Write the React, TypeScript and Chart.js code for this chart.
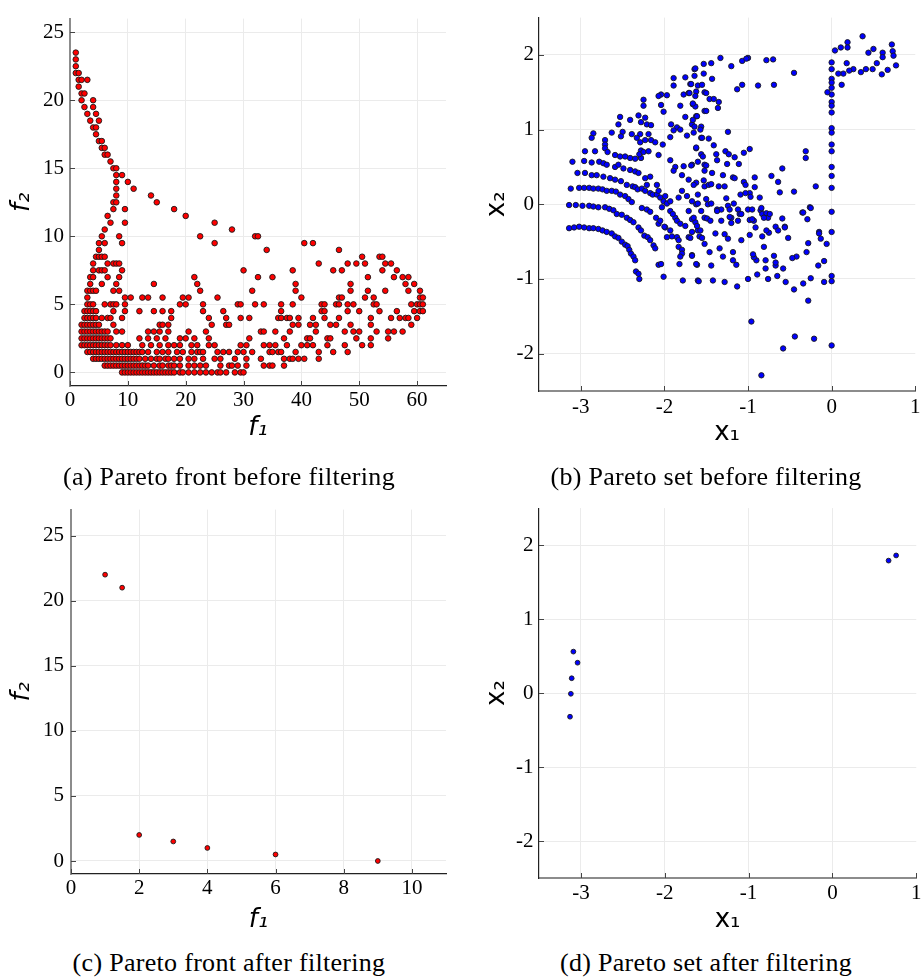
import React, { useEffect, useRef } from "react";
import { Chart, registerables } from "chart.js";

Chart.register(...registerables);

// ---------- DATA ----------
// (a) Pareto front before filtering: rows of [f2, f1 values]
const frontBeforeRows: [number, number[]][] = [
  [0, [9, 9.5, 10, 10.5, 11, 11.5, 12, 12.5, 13, 13.5, 14, 14.5, 15, 15.5, 16, 16.5, 17, 17.5, 18, 19, 19.5, 20.5, 21.5, 22.5, 23.5, 24.5, 25.5, 26, 27, 28.5, 29.5, 30]],
  [0.5, [6, 6.5, 7, 7.5, 8, 8.5, 9, 9.5, 10, 10.5, 11, 11.5, 12, 12.5, 13, 13.5, 14.5, 15.5, 16, 17, 17.5, 18, 19, 20.5, 21.5, 22.5, 23.5, 26, 27.5, 28, 29, 30.5, 33.5, 34.5, 35, 37]],
  [1, [4, 4.5, 5, 5.5, 6, 6.5, 7, 7.5, 8, 8.5, 9, 9.5, 10, 10.5, 11, 11.5, 12, 13, 14, 15, 15.5, 16.5, 17, 18, 19, 20.5, 21.5, 23, 25, 26, 28.5, 30.5, 33, 37, 38, 38.5, 39.5, 40.5, 43]],
  [1.5, [3, 3.5, 4, 4.5, 5, 5.5, 6, 6.5, 7, 7.5, 8, 8.5, 9, 9.5, 10, 10.5, 11, 11.5, 12, 12.5, 13.5, 15, 16, 17, 18.5, 19.5, 21, 22, 22.5, 23, 25.5, 26.5, 27.5, 29, 30, 31.5, 34.5, 35, 36, 36.5, 39, 43, 45.5, 48]],
  [2, [2, 2.5, 3, 3.5, 4, 4.5, 5, 5.5, 6, 6.5, 7, 8, 9, 10, 12.5, 14, 15.5, 17, 18, 19, 21, 22, 24, 25, 29.5, 30.5, 33.5, 34.5, 35.5, 37.5, 40, 41, 42, 44.5, 47.5, 50.5, 52]],
  [2.5, [2, 2.5, 3, 3.5, 4, 4.5, 5, 5.5, 6, 6.5, 7, 12, 13.5, 15, 16.5, 19, 20, 21.5, 24, 31, 37, 41, 41.5, 44.5, 45, 49.5, 52, 55]],
  [3, [2, 2.5, 3, 3.5, 4, 4.5, 5, 5.5, 6, 6.5, 8, 9, 13.5, 14.5, 15.5, 17, 20.5, 23.5, 33, 33.5, 35.5, 38, 42.5, 47.5, 49, 50, 53, 55, 56, 57.5]],
  [3.5, [2, 2.5, 3, 3.5, 4, 4.5, 5, 7.5, 15.5, 16, 17, 24.5, 27, 27.5, 38.5, 39.5, 41.5, 42.5, 45, 46, 48.5, 52, 59]],
  [4, [2.5, 3, 3.5, 4, 4.5, 5.5, 6.5, 7, 9, 17.5, 24, 27, 29.5, 31, 36, 36.5, 37.5, 38, 39.5, 42, 44, 46.5, 52, 55.5, 57, 58, 58.5, 60]],
  [4.5, [2.5, 3, 3.5, 4, 4.5, 7.5, 9.5, 12, 14.5, 16, 17.5, 23, 26.5, 36.5, 43.5, 44, 48, 50, 53.5, 56.5, 59.5, 60.5, 61]],
  [5, [3, 3.5, 4, 6, 7, 7.5, 8, 9.5, 19, 20, 23, 29, 29.5, 32, 33.5, 36.5, 38.5, 43.5, 44, 46, 46.5, 48, 49, 52.5, 53, 59, 60, 60.5, 61]],
  [5.5, [3, 9.5, 10.5, 12.5, 13.5, 16, 19.5, 20.5, 25.5, 40, 46.5, 47, 51, 52.5, 60.5, 61]],
  [6, [3, 3.5, 4, 4.5, 7.5, 8.5, 22.5, 31.5, 39, 48.5, 51.5, 54.5, 58.5, 60.5]],
  [6.5, [3.5, 5.5, 8, 14.5, 22, 39, 48.5, 58, 59.5]],
  [7, [3.5, 4, 6.5, 8.5, 21.5, 32.5, 35, 51.5, 56, 57.5, 58.5]],
  [7.5, [4, 5, 5.5, 6, 9, 30, 38.5, 45.5, 47, 54, 56.5]],
  [8, [4, 6.5, 7.5, 8, 8.5, 43, 48, 49.5, 51, 54.5, 55.5]],
  [8.5, [4.5, 5, 5.5, 6, 50.5, 53.5, 54]],
  [9, [5, 34, 46.5]],
  [9.5, [5, 6, 9, 25, 40.5, 42]],
  [10, [5.5, 8.5, 22.5, 32, 32.5]],
  [10.5, [6, 28]],
  [11, [7, 9.5, 25]],
  [11.5, [6.5, 20]],
  [12, [7.5, 9.5, 18]],
  [12.5, [7.5, 8, 15]],
  [13, [8, 14]],
  [13.5, [8, 11]],
  [14, [8, 10]],
  [14.5, [8, 9]],
  [15, [7.5, 8]],
  [15.5, [7]],
  [16, [6, 6.5]],
  [16.5, [5.5, 6]],
  [17, [5, 5.5]],
  [17.5, [4.5]],
  [18, [4, 4.5]],
  [18.5, [3.5, 5]],
  [19, [3, 4.5]],
  [19.5, [2.5, 4]],
  [20, [2, 4]],
  [20.5, [2, 2.5]],
  [21, [1.5]],
  [21.5, [1.5, 2, 3]],
  [22, [1, 1.5]],
  [22.5, [1]],
  [23, [1]],
  [23.5, [1]],
];

// (b) Pareto set before filtering: [x1, x2]
const setBefore: [number, number][] = [
  // lower-left arcs
  [-3.14, -0.32], [-3.08, -0.31], [-3.02, -0.3], [-2.96, -0.31], [-2.9, -0.32], [-2.85, -0.32], [-2.79, -0.33], [-2.74, -0.35], [-2.69, -0.37], [-2.63, -0.39], [-2.59, -0.43], [-2.55, -0.45], [-2.51, -0.5], [-2.47, -0.54], [-2.44, -0.56], [-2.42, -0.61], [-2.4, -0.66], [-2.37, -0.7], [-2.35, -0.75], [-2.34, -0.9], [-2.31, -0.93], [-2.3, -1.0],
  [-3.14, -0.01], [-3.06, -0.01], [-2.98, -0.02], [-2.9, -0.02], [-2.85, -0.03], [-2.79, -0.04], [-2.71, -0.04], [-2.66, -0.06], [-2.61, -0.08], [-2.57, -0.13], [-2.51, -0.14], [-2.45, -0.18], [-2.41, -0.21], [-2.37, -0.24], [-2.31, -0.31], [-2.28, -0.35], [-2.24, -0.42], [-2.2, -0.44], [-2.17, -0.48], [-2.13, -0.55], [-2.11, -0.59], [-2.07, -0.81], [-2.04, -0.8], [-2.01, -0.97],
  [-3.12, 0.21], [-3.02, 0.22], [-2.96, 0.22], [-2.9, 0.22], [-2.85, 0.21], [-2.79, 0.21], [-2.74, 0.2], [-2.69, 0.18], [-2.63, 0.18], [-2.58, 0.17], [-2.53, 0.13], [-2.47, 0.11], [-2.43, 0.07], [-2.39, 0.03],
  [-3.04, 0.42], [-2.95, 0.42], [-2.87, 0.39], [-2.81, 0.39], [-2.73, 0.37], [-2.65, 0.35], [-2.59, 0.33], [-2.52, 0.31], [-2.45, 0.26], [-2.38, 0.24], [-2.35, 0.23], [-2.32, 0.2], [-2.27, 0.21], [-2.23, 0.18], [-2.17, 0.15], [-2.14, 0.13], [-2.09, 0.13], [-2.05, 0.09], [-2.01, 0.04], [-1.97, 0.01],
  [-3.1, 0.57], [-2.96, 0.58], [-2.87, 0.56], [-2.78, 0.57], [-2.73, 0.55], [-2.69, 0.53], [-2.59, 0.5], [-2.55, 0.53], [-2.49, 0.48], [-2.41, 0.46], [-2.35, 0.44], [-2.31, 0.42], [-2.23, 0.35], [-2.17, 0.37], [-2.21, 0.26], [-2.09, 0.26],
  [-2.07, 0.18], [-1.99, 0.11], [-1.93, 0.04], [-1.83, 0.09], [-1.79, 0.18], [-1.73, 0.11], [-1.67, 0.04], [-1.62, 0.0], [-1.6, 0.13], [-1.56, -0.09], [-1.48, 0.0],
  [-2.07, -0.26], [-1.99, -0.31], [-1.93, -0.35], [-1.91, -0.43], [-1.85, -0.44], [-1.83, -0.48], [-1.83, -0.57], [-1.79, -0.61], [-1.79, -0.66], [-1.81, -0.7], [-1.82, -0.8], [-1.78, -1.02], [-1.6, -1.02], [-1.67, -0.68], [-1.61, -0.81], [-1.71, -0.44], [-1.67, -0.37], [-1.6, -0.35], [-1.58, -0.43], [-1.52, -0.53], [-1.52, -0.18], [-1.71, -0.09], [-1.67, -0.2], [-1.63, -0.24], [-1.87, -0.18], [-1.85, -0.22], [-1.81, -0.26], [-1.75, -0.29], [-2.03, -0.04], [-1.93, -0.09], [-1.9, -0.13], [-2.27, -0.05], [-2.21, -0.07], [-2.17, -0.1], [-2.1, -0.18], [-2.05, -0.22], [-2.0, -0.3], [-1.97, -0.44],
  // upper-left cloud
  [-1.53, 1.88], [-1.64, 1.81], [-1.64, 1.72], [-1.75, 1.7], [-1.89, 1.69], [-1.89, 1.59], [-1.69, 1.61], [-1.6, 1.59], [-1.62, 1.51], [-1.52, 1.5], [-1.77, 1.47], [-1.71, 1.49], [-2.04, 1.47], [-2.07, 1.45], [-1.97, 1.46], [-2.04, 1.33], [-1.81, 1.32], [-1.66, 1.34], [-1.63, 1.31], [-2.25, 1.4], [-2.25, 1.32], [-2.01, 1.24], [-1.52, 1.25], [-1.62, 1.18], [-1.75, 1.17], [-2.31, 1.19], [-2.23, 1.16], [-2.28, 1.1], [-2.21, 1.07], [-2.16, 1.06], [-2.53, 1.17], [-2.41, 1.13], [-2.55, 1.07], [-1.92, 1.07], [-1.85, 1.03], [-1.81, 1.0], [-1.89, 0.99], [-1.73, 0.92], [-1.65, 0.96], [-1.56, 0.89], [-1.56, 1.04], [-1.67, 1.07], [-2.63, 0.96], [-2.5, 0.97], [-2.39, 0.94], [-2.85, 0.95], [-2.87, 0.89], [-2.71, 0.86], [-2.52, 0.91], [-2.29, 0.94], [-2.19, 0.94], [-2.16, 0.86], [-2.11, 0.83], [-2.33, 0.89], [-2.29, 0.83], [-2.23, 0.86], [-2.02, 0.8], [-1.93, 0.9], [-1.62, 0.75], [-2.95, 0.71], [-2.83, 0.71], [-2.71, 0.8], [-2.71, 0.75], [-2.68, 0.7], [-2.59, 0.66], [-2.53, 0.64], [-2.47, 0.64], [-2.41, 0.62], [-2.35, 0.61], [-2.28, 0.62], [-2.28, 0.72], [-2.3, 0.67], [-2.25, 0.7], [-2.19, 0.71], [-2.07, 0.66], [-1.93, 0.59], [-1.87, 0.5], [-1.77, 0.51], [-1.67, 0.53], [-1.6, 0.57], [-1.52, 0.53], [-1.79, 0.39], [-1.89, 0.45], [-1.71, 0.33], [-1.62, 0.29], [-1.52, 0.24],
  // top-right cluster
  [0.37, 2.25], [0.19, 2.17], [0.19, 2.1], [0.11, 2.1], [0.04, 2.06], [0.5, 2.08], [0.44, 2.03], [0.61, 2.03], [0.61, 1.97], [0.72, 2.14], [0.73, 2.05], [0.74, 1.99], [0.77, 1.86], [0.67, 1.8], [0.6, 1.74], [0.54, 1.89], [0.49, 1.81], [0.41, 1.81], [0.35, 1.77], [0.26, 1.81], [0.21, 1.79], [0.14, 1.75], [0.08, 1.75], [0.18, 1.89], [0.12, 1.6],
  // column at x1 = 0
  [0, 1.9], [0, 1.81], [0, 1.68], [0, 1.63], [0, 1.56], [0, 1.47], [0, 1.37], [0, 1.32], [0, 1.23], [0, 1.02], [0, 0.96], [0, 0.8], [0, 0.71], [0, 0.5], [0, 0.38], [0, 0.22], [0, -0.1], [0, -0.37], [-0.05, 1.5],
  // middle cloud
  [-0.45, 1.76], [-0.78, 1.93], [-0.7, 1.94], [-1.07, 1.92], [-1.0, 1.96], [-1.02, 1.95], [-1.2, 1.85], [-1.33, 1.96], [-1.44, 1.89], [-1.63, 1.82], [-1.53, 1.75], [-1.43, 1.68], [-1.68, 1.61], [-1.55, 1.6], [-1.13, 1.54], [-1.07, 1.6], [-0.88, 1.59], [-0.69, 1.6], [-1.5, 1.49], [-1.63, 1.45], [-1.7, 1.49], [-1.46, 1.41], [-1.41, 1.41], [-1.35, 1.37], [-1.36, 1.29], [-1.66, 1.35], [-1.5, 1.25], [-1.61, 1.18], [-1.66, 1.13], [-1.64, 1.04], [-1.57, 1.0], [-1.24, 0.97], [-1.55, 0.89], [-1.47, 0.88], [-1.62, 0.76], [-1.41, 0.79], [-1.56, 0.67], [-1.54, 0.64], [-1.38, 0.67], [-1.27, 0.71], [-1.23, 0.67], [-1.05, 0.69], [-0.98, 0.74], [-1.37, 0.59], [-1.25, 0.54], [-1.16, 0.63], [-1.11, 0.54], [-1.68, 0.52], [-1.5, 0.52], [-1.52, 0.45], [-1.43, 0.42], [-1.3, 0.39], [-1.18, 0.36], [-1.16, 0.35], [-1.05, 0.3], [-1.03, 0.26], [-0.92, 0.23], [-0.92, 0.36], [-0.72, 0.38], [-0.59, 0.48], [-0.64, 0.3], [-0.62, 0.16], [-0.45, 0.17], [-0.19, 0.24], [-0.31, 0.71], [-0.31, 0.62], [-0.98, 0.15], [-1.09, 0.13], [-1.03, 0.15], [-0.97, 0.1], [-0.86, 0.09], [-1.35, 0.24], [-1.28, 0.24], [-1.47, 0.26], [-1.44, 0.27], [-1.53, 0.32], [-1.65, 0.26], [-1.6, 0.01], [-1.5, 0.07], [-1.44, 0.01], [-1.37, -0.07], [-1.32, -0.07], [-1.26, 0.08], [-1.24, -0.02], [-1.17, 0.01], [-1.12, -0.07], [-1.1, -0.13], [-1.0, -0.07], [-0.95, -0.07], [-0.85, -0.08], [-0.83, -0.13], [-0.78, -0.12], [-0.76, -0.18], [-0.93, -0.22], [-1.2, -0.18], [-0.35, -0.11], [-0.29, -0.2], [-0.26, -0.04], [-0.59, -0.19], [-0.56, -0.3], [-0.15, -0.37],
  // lower-middle cloud
  [-0.25, -0.05], [-0.34, -0.11], [-0.15, -0.39], [-0.13, -0.46], [-0.06, -0.53], [-0.28, -0.52], [-0.3, -0.64], [-0.42, -0.7], [-0.47, -0.72], [-0.09, -0.76], [-0.16, -0.82], [-0.25, -0.99], [-0.34, -1.06], [-0.09, -1.04], [0, -0.96], [0, -1.03], [-0.45, -1.14], [-0.55, -1.04], [-0.28, -1.29], [-0.58, -0.86], [-0.65, -0.96], [-0.67, -0.82], [-0.67, -0.78], [-0.69, -0.69], [-0.76, -1.0], [-0.79, -0.86], [-0.79, -0.75], [-0.81, -0.57], [-0.89, -0.94], [-0.9, -0.75], [-0.93, -0.71], [-0.94, -0.67], [-1.0, -1.0], [-1.13, -1.1], [-1.28, -1.04], [-1.42, -1.02], [-1.59, -1.03], [-0.98, -0.41], [-0.83, -0.43], [-0.98, -0.21], [-0.95, -0.2], [-0.91, -0.31], [-0.75, -0.38], [-0.78, -0.35], [-0.67, -0.3], [-0.64, -0.35], [-0.56, -0.31], [-0.52, -0.45], [-0.84, -0.05], [-0.81, -0.18], [-0.74, -0.13], [-1.08, -0.13], [-1.12, -0.22], [-1.08, -0.48], [-1.18, -0.64], [-1.14, -0.81], [-1.18, -0.75], [-1.3, -0.7], [-1.34, -0.59], [-1.46, -0.64], [-1.44, -0.82], [-1.62, -0.8], [-1.67, -0.69], [-1.39, -0.39], [-1.28, -0.4], [-1.24, -0.46], [-1.57, -0.35], [-1.55, -0.45], [-1.69, -0.45], [-1.32, -0.22], [-1.22, -0.17], [-1.2, -0.25], [-1.37, -0.09], [-1.22, -0.07], [-1.49, -0.19], [-1.45, -0.22], [-1.65, -0.18], [-1.61, -0.29],
  // outliers
  [-0.96, -1.57], [-0.58, -1.93], [-0.44, -1.77], [-0.21, -1.8], [0, -1.89], [-0.84, -2.29],
];

// (c) Pareto front after filtering: [f1, f2]
const frontAfter: [number, number][] = [[1, 22], [1.5, 21], [2, 2], [3, 1.5], [4, 1], [6, 0.5], [9, 0]];

// (d) Pareto set after filtering: [x1, x2]
const setAfter: [number, number][] = [[-3.09, 0.56], [-3.04, 0.41], [-3.11, 0.2], [-3.12, -0.01], [-3.13, -0.32], [0.67, 1.79], [0.76, 1.86]];

// tick values
const frontBeforeXTicks = [0, 10, 20, 30, 40, 50, 60];
const frontAfterXTicks = [0, 2, 4, 6, 8, 10];
const frontYTicks = [0, 5, 10, 15, 20, 25];
const setXTicks = [-3, -2, -1, 0, 1];
const setYTicks = [-2, -1, 0, 1, 2];

const captions = [
  "(a) Pareto front before filtering",
  "(b) Pareto set before filtering",
  "(c) Pareto front after filtering",
  "(d) Pareto set after filtering",
];

const frontBefore: [number, number][] = frontBeforeRows.flatMap(([f2, xs]) => xs.map((f1) => [f1, f2] as [number, number]));

// ---------- PANELS ----------
type Panel = {
  left: number; top: number; width: number; height: number;
  area: { left: number; top: number; right: number; bottom: number };
  xMin: number; xMax: number; yMin: number; yMax: number;
  xTicks: number[]; yTicks: number[];
  xTitle: string; yTitle: string; italic: boolean;
  points: [number, number][]; color: string; radius: number;
  xTickPad: number; yTickPad: number; xTitleY: number; yTitleX: number;
  leftBorder: { color: string; width: number };
  bottomBorder: { color: string; width: number };
};

const GRAY_AXIS = { color: "#8c8c8c", width: 2 };
const DARK_AXIS = { color: "#222222", width: 1.2 };

const panels: Panel[] = [
  {
    left: 0, top: 0, width: 462, height: 450,
    area: { left: 70, top: 9, right: 446, bottom: 386 },
    xMin: 0, xMax: 65, yMin: -1, yMax: 26,
    xTicks: frontBeforeXTicks, yTicks: frontYTicks,
    xTitle: "f\u2081", yTitle: "f\u2082", italic: true,
    points: frontBefore, color: "#ff0000", radius: 2.8,
    xTickPad: 1.5, yTickPad: 6, xTitleY: 428, yTitleX: 22,
    leftBorder: GRAY_AXIS, bottomBorder: DARK_AXIS,
  },
  {
    left: 462, top: 0, width: 462, height: 450,
    area: { left: 77, top: 9, right: 456, bottom: 391 },
    xMin: -3.5, xMax: 1, yMin: -2.5, yMax: 2.5,
    xTicks: setXTicks, yTicks: setYTicks,
    xTitle: "x\u2081", yTitle: "x\u2082", italic: false,
    points: setBefore, color: "#0000ff", radius: 2.7,
    xTickPad: 3.5, yTickPad: 5, xTitleY: 433, yTitleX: 35,
    leftBorder: DARK_AXIS, bottomBorder: GRAY_AXIS,
  },
  {
    left: 0, top: 490, width: 462, height: 450,
    area: { left: 71, top: 8, right: 446, bottom: 384 },
    xMin: 0, xMax: 11, yMin: -1, yMax: 27,
    xTicks: frontAfterXTicks, yTicks: frontYTicks,
    xTitle: "f\u2081", yTitle: "f\u2082", italic: true,
    points: frontAfter, color: "#ff0000", radius: 2.4,
    xTickPad: 1.5, yTickPad: 7, xTitleY: 430, yTitleX: 22,
    leftBorder: GRAY_AXIS, bottomBorder: DARK_AXIS,
  },
  {
    left: 462, top: 490, width: 462, height: 450,
    area: { left: 77, top: 7, right: 456, bottom: 388 },
    xMin: -3.5, xMax: 1, yMin: -2.5, yMax: 2.5,
    xTicks: setXTicks, yTicks: setYTicks,
    xTitle: "x\u2081", yTitle: "x\u2082", italic: false,
    points: setAfter, color: "#0000ff", radius: 2.4,
    xTickPad: 2.5, yTickPad: 5.5, xTitleY: 430, yTitleX: 35,
    leftBorder: DARK_AXIS, bottomBorder: GRAY_AXIS,
  },
];

const captionPos = [
  { cx: 229, cy: 477 },
  { cx: 706, cy: 477 },
  { cx: 229, cy: 963 },
  { cx: 706, cy: 963 },
];

const innerTicks = {
  id: "innerTicks",
  beforeDatasetsDraw(chart: any) {
    const { ctx, chartArea, scales } = chart;
    ctx.save();
    ctx.strokeStyle = "#444";
    ctx.lineWidth = 1;
    scales.x.ticks.forEach((t: any) => {
      const px = Math.round(scales.x.getPixelForValue(t.value)) + 0.5;
      ctx.beginPath();
      ctx.moveTo(px, chartArea.bottom);
      ctx.lineTo(px, chartArea.bottom - 5);
      ctx.stroke();
    });
    scales.y.ticks.forEach((t: any) => {
      const py = Math.round(scales.y.getPixelForValue(t.value)) + 0.5;
      ctx.beginPath();
      ctx.moveTo(chartArea.left, py);
      ctx.lineTo(chartArea.left + 5, py);
      ctx.stroke();
    });
    ctx.restore();
  },
};

function PanelChart({ p }: { p: Panel }) {
  const ref = useRef<HTMLCanvasElement>(null);
  useEffect(() => {
    const canvas = ref.current;
    if (!canvas) return;
    const TITLE_SIZE = 26;
    const half = (TITLE_SIZE * 1.2) / 2;
    const titleFont = { family: "'DejaVu Sans', sans-serif", size: TITLE_SIZE, style: p.italic ? "italic" : "normal", lineHeight: 1.2 } as any;
    const tickFont = { family: "'Liberation Serif', 'Times New Roman', serif", size: 21, lineHeight: 1.2 } as any;
    const gridColor = (ctx: any, max: number) =>
      ctx.tick && Math.abs(ctx.tick.value - max) < 1e-9 ? "rgba(0,0,0,0)" : "#ebebeb";
    const chart = new Chart(canvas, {
      type: "scatter",
      data: {
        datasets: [
          {
            data: p.points.map(([x, y]) => ({ x, y })),
            backgroundColor: p.color,
            borderColor: "#1a1a1a",
            borderWidth: 0.9,
            pointRadius: p.radius,
            pointHoverRadius: p.radius,
          },
        ],
      },
      options: {
        animation: false,
        responsive: false,
        devicePixelRatio: 1,
        events: [],
        layout: { padding: { left: 0, top: p.area.top, right: p.width - p.area.right, bottom: 0 } },
        plugins: { legend: { display: false }, tooltip: { enabled: false }, title: { display: false } },
        scales: {
          x: {
            type: "linear",
            position: "bottom",
            min: p.xMin,
            max: p.xMax,
            afterBuildTicks: (s: any) => { s.ticks = p.xTicks.map((v) => ({ value: v })); },
            afterFit: (s: any) => { s.height = p.height - p.area.bottom; },
            ticks: { font: tickFont, color: "#000", padding: p.xTickPad, maxRotation: 0, autoSkip: false, callback: (v: any) => String(v) },
            grid: { color: (c: any) => gridColor(c, p.xMax), lineWidth: 1, drawTicks: false },
            border: { display: true, color: p.bottomBorder.color, width: p.bottomBorder.width },
            title: { display: true, text: p.xTitle, font: titleFont, color: "#000", padding: { top: 0, bottom: p.height - p.xTitleY - half } },
          },
          y: {
            type: "linear",
            position: "left",
            min: p.yMin,
            max: p.yMax,
            afterBuildTicks: (s: any) => { s.ticks = p.yTicks.map((v) => ({ value: v })); },
            afterFit: (s: any) => { s.width = p.area.left; },
            ticks: { font: tickFont, color: "#000", padding: p.yTickPad, autoSkip: false, callback: (v: any) => String(v) },
            grid: { color: (c: any) => gridColor(c, p.yMax), lineWidth: 1, drawTicks: false },
            border: { display: true, color: p.leftBorder.color, width: p.leftBorder.width },
            title: { display: true, text: p.yTitle, font: titleFont, color: "#000", padding: { top: Math.max(0, p.yTitleX - half), bottom: 0 } },
          },
        },
      } as any,
      plugins: [innerTicks],
    });
    return () => chart.destroy();
  }, [p]);
  return (
    <canvas
      ref={ref}
      width={p.width}
      height={p.height}
      style={{ position: "absolute", left: p.left, top: p.top, width: p.width, height: p.height }}
    />
  );
}

export default function App() {
  return (
    <div style={{ position: "absolute", left: 0, top: 0, width: 924, height: 977, background: "#fff", overflow: "hidden" }}>
      {panels.map((p, i) => (
        <PanelChart key={i} p={p} />
      ))}
      {captions.map((c, i) => (
        <div
          key={i}
          style={{
            position: "absolute",
            left: captionPos[i].cx - 230,
            top: captionPos[i].cy - 16,
            width: 460,
            height: 32,
            lineHeight: "32px",
            textAlign: "center",
            fontFamily: "'Liberation Serif', 'Times New Roman', serif",
            fontSize: 26,
            letterSpacing: 0.3,
            color: "#000",
            whiteSpace: "nowrap",
          }}
        >
          {c}
        </div>
      ))}
    </div>
  );
}
